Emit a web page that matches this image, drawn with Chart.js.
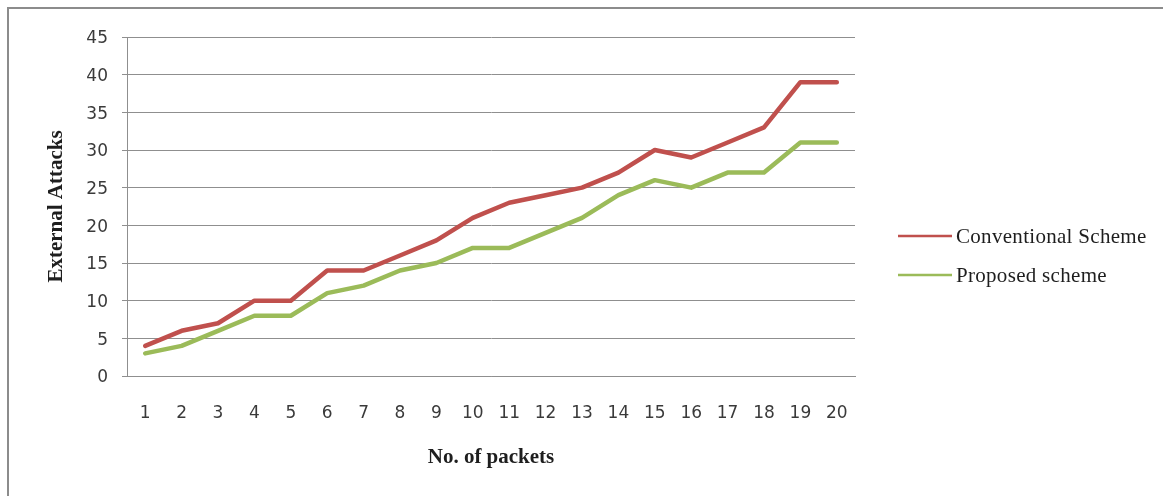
<!DOCTYPE html>
<html>
<head>
<meta charset="utf-8">
<script src="https://cdn.jsdelivr.net/npm/chart.js@4.4.1/dist/chart.umd.min.js"></script>
<style>
  html, body { margin: 0; padding: 0; background: #ffffff; overflow: hidden; }
  #wrap { position: relative; width: 1163px; height: 496px; }
  #frame {
    position: absolute; left: 7px; top: 7px; width: 1200px; height: 600px;
    border-left: 2px solid #8c8c8c; border-top: 2px solid #8c8c8c;
    box-sizing: border-box;
  }
  canvas { position: absolute; left: 0; top: 0; }
</style>
</head>
<body>
<div id="wrap">
  <div id="frame"></div>
  <canvas id="chart" width="1163" height="496"></canvas>
</div>
<script>
// Packet counts on the category axis
const packets = ['1','2','3','4','5','6','7','8','9','10','11','12','13','14','15','16','17','18','19','20'];

// External attacks observed for each scheme
const conventionalScheme = [4, 6, 7, 10, 10, 14, 14, 16, 18, 21, 23, 24, 25, 27, 30, 29, 31, 33, 39, 39];
const proposedScheme     = [3, 4, 6, 8, 8, 11, 12, 14, 15, 17, 17, 19, 21, 24, 26, 25, 27, 27, 31, 31];

const seriesNames = ['Conventional Scheme', 'Proposed scheme'];
const seriesColors = ['#C0504D', '#9BBB59'];

const tickFont = { family: '"DejaVu Sans", sans-serif', size: 17 };
const titleFont = { family: '"Liberation Serif", "Times New Roman", serif', size: 21, weight: 'bold' };
const textColor = '#1e1e1e';
const tickColor = '#3a3a3a';
const gridColor = '#8f8f8f';

// Legend drawn to the right of the plot, one line sample per series
const sideLegend = {
  id: 'sideLegend',
  afterDraw(chart) {
    const ctx = chart.ctx;
    const x0 = 898, x1 = 952, textX = 956;
    const rows = [236, 275];
    ctx.save();
    ctx.font = '21px "Liberation Serif", "Times New Roman", serif';
    if ('letterSpacing' in ctx) ctx.letterSpacing = '0.3px';
    ctx.textBaseline = 'middle';
    ctx.textAlign = 'left';
    chart.data.datasets.forEach((ds, i) => {
      const y = rows[i];
      ctx.strokeStyle = ds.borderColor;
      ctx.lineWidth = 2.5;
      ctx.beginPath();
      ctx.moveTo(x0, y);
      ctx.lineTo(x1, y);
      ctx.stroke();
      ctx.fillStyle = textColor;
      ctx.fillText(ds.label, textX, y + 1);
    });
    ctx.restore();
  }
};

new Chart(document.getElementById('chart'), {
  type: 'line',
  data: {
    labels: packets,
    datasets: [
      {
        label: seriesNames[0],
        data: conventionalScheme,
        borderColor: seriesColors[0],
        backgroundColor: seriesColors[0],
        borderWidth: 4.5,
        pointRadius: 0,
        tension: 0,
        borderCapStyle: 'round',
        borderJoinStyle: 'round'
      },
      {
        label: seriesNames[1],
        data: proposedScheme,
        borderColor: seriesColors[1],
        backgroundColor: seriesColors[1],
        borderWidth: 4.5,
        pointRadius: 0,
        tension: 0,
        borderCapStyle: 'round',
        borderJoinStyle: 'round'
      }
    ]
  },
  options: {
    responsive: false,
    animation: false,
    devicePixelRatio: 1,
    layout: { padding: { left: 0, top: 37, right: 308, bottom: 0 } },
    plugins: {
      legend: { display: false },
      tooltip: { enabled: false }
    },
    scales: {
      x: {
        type: 'category',
        offset: true,
        grid: { display: false, drawTicks: false },
        border: { display: true, color: gridColor, width: 1 },
        ticks: { font: tickFont, color: tickColor, padding: 27, maxRotation: 0, autoSkip: false },
        title: {
          display: true,
          text: 'No. of packets',
          font: titleFont,
          color: textColor,
          padding: { top: 0, bottom: 26 }
        },
        afterFit(scale) { scale.height = 120; }
      },
      y: {
        min: 0,
        max: 45,
        ticks: { stepSize: 5, font: tickFont, color: tickColor, padding: 14, labelOffset: 2 },
        grid: { color: gridColor, lineWidth: 1, tickLength: 5, drawTicks: true },
        border: { display: true, color: gridColor, width: 1 },
        title: {
          display: true,
          text: 'External Attacks',
          font: titleFont,
          color: textColor,
          padding: { top: 44, bottom: 0 }
        },
        afterFit(scale) { scale.width = 127; }
      }
    }
  },
  plugins: [sideLegend]
});
</script>
</body>
</html>
